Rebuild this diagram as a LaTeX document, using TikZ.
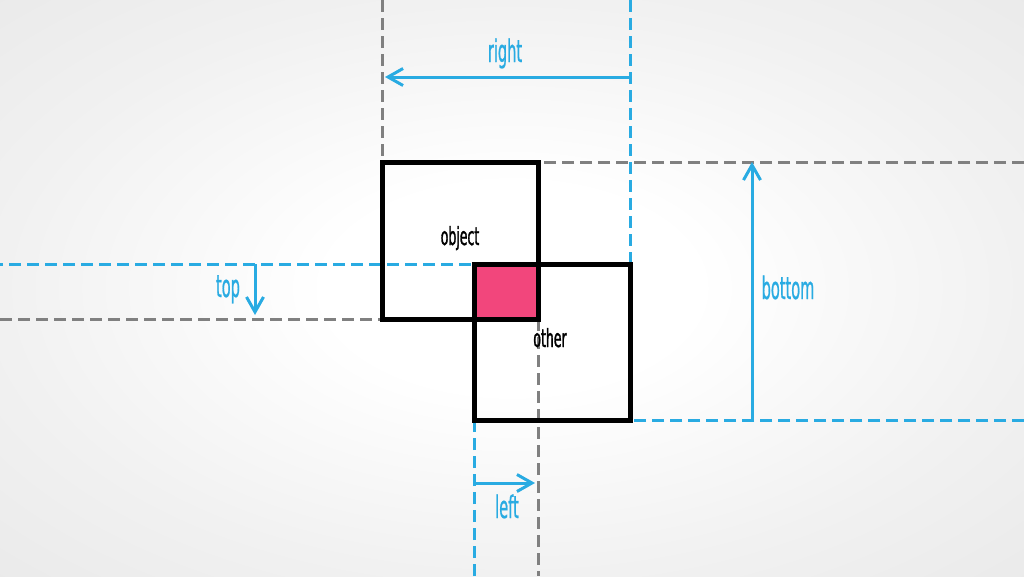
\documentclass[tikz,border=0pt]{standalone}
\usepackage{fontspec}
\usetikzlibrary{arrows.meta}
\usetikzlibrary{positioning}
\newfontfamily\labelfont[FakeStretch=0.47, FakeBold=0.6]{DejaVu Sans}
\newfontfamily\boxfont[FakeStretch=0.5, FakeBold=1.2]{DejaVu Sans}
\definecolor{guideblue}{HTML}{29ABE2}
\definecolor{guidegray}{HTML}{808080}
\definecolor{overlappink}{HTML}{F2467C}
\definecolor{bgmid}{HTML}{F1F1F1}
\definecolor{bgedge}{HTML}{EAEAEA}
\pgfdeclareradialshading{bgglow}{\pgfpoint{0bp}{0bp}}{color(0bp)=(white); color(9bp)=(white); color(25bp)=(bgmid); color(36bp)=(bgedge); color(50bp)=(bgedge)}
\tikzset{
guidewidth/.style={line width=3pt},
graydash/.style={draw=guidegray, guidewidth, dash pattern=on 12pt off 6pt},
bluedash/.style={draw=guideblue, guidewidth, dash pattern=on 12pt off 6pt},
boxline/.style={draw=black, line width=5pt},
dimarrow/.style={draw=guideblue, guidewidth, -{Straight Barb[length=15pt,width=17pt]}},
dimlabel/.style={text=guideblue, anchor=base, inner sep=0pt, font=\labelfont\fontsize{31}{35}\selectfont},
boxlabel/.style={text=black, anchor=base, inner sep=0pt, font=\boxfont\fontsize{25}{29}\selectfont},
}
\begin{document}
\begin{tikzpicture}[x=1pt,y=-1pt]
\useasboundingbox (0,0) rectangle (1024,576);
\shade[shading=bgglow] (0,0) rectangle (1024,576);

% frame and box corners
\coordinate (fnw) at (0,0);
\coordinate (fse) at (1024,576);
\coordinate (objnw) at (382,162);
\coordinate (objse) at (538,319);
\coordinate (othnw) at (474,264);
\coordinate (othse) at (630,420);

%
\fill[overlappink] (othnw) rectangle (objse);

% object guides
\draw[graydash] (objnw |- fnw) -- (objnw);
\draw[graydash] (objse -| fnw) -- (objse -| objnw);
\draw[graydash] (objnw -| fse) -- (objnw -| objse);
\draw[graydash] (objse) -- (objse |- fse);

% other guides
\draw[bluedash] (othse |- fnw) -- (othnw -| othse);
\draw[bluedash, dash phase=9pt] (othnw -| fnw) -- (othnw);
\draw[bluedash] (othse -| fse) -- (othse);
\draw[bluedash] (othnw |- fse) -- (othse -| othnw);

%
\draw[boxline] (objnw) rectangle (objse);
\draw[boxline] (othnw) rectangle (othse);
\node[boxlabel] (object) at (460,245) {object};
\node[boxlabel] (other) at (550,347) {other};

% distances
\coordinate (rightfrom) at (630,77);
\coordinate (rightto) at (385,77);
\coordinate (topfrom) at (255,264);
\coordinate (topto) at (255,315);
\coordinate (leftfrom) at (474,483);
\coordinate (leftto) at (535,483);
\coordinate (bottomfrom) at (752,420);
\coordinate (bottomto) at (752,162);

\draw[dimarrow] (rightfrom) to (rightto);
\draw[dimarrow] (topfrom) to (topto);
\draw[dimarrow] (leftfrom) to (leftto);
\draw[dimarrow] (bottomfrom) to (bottomto);

\node[dimlabel] (right) at (505,62) {right};
\node[dimlabel] (top) at (228,297) {top};
\node[dimlabel] (left) at (507,518) {left};
\node[dimlabel] (bottom) at (788,299) {bottom};
\end{tikzpicture}
\end{document}
